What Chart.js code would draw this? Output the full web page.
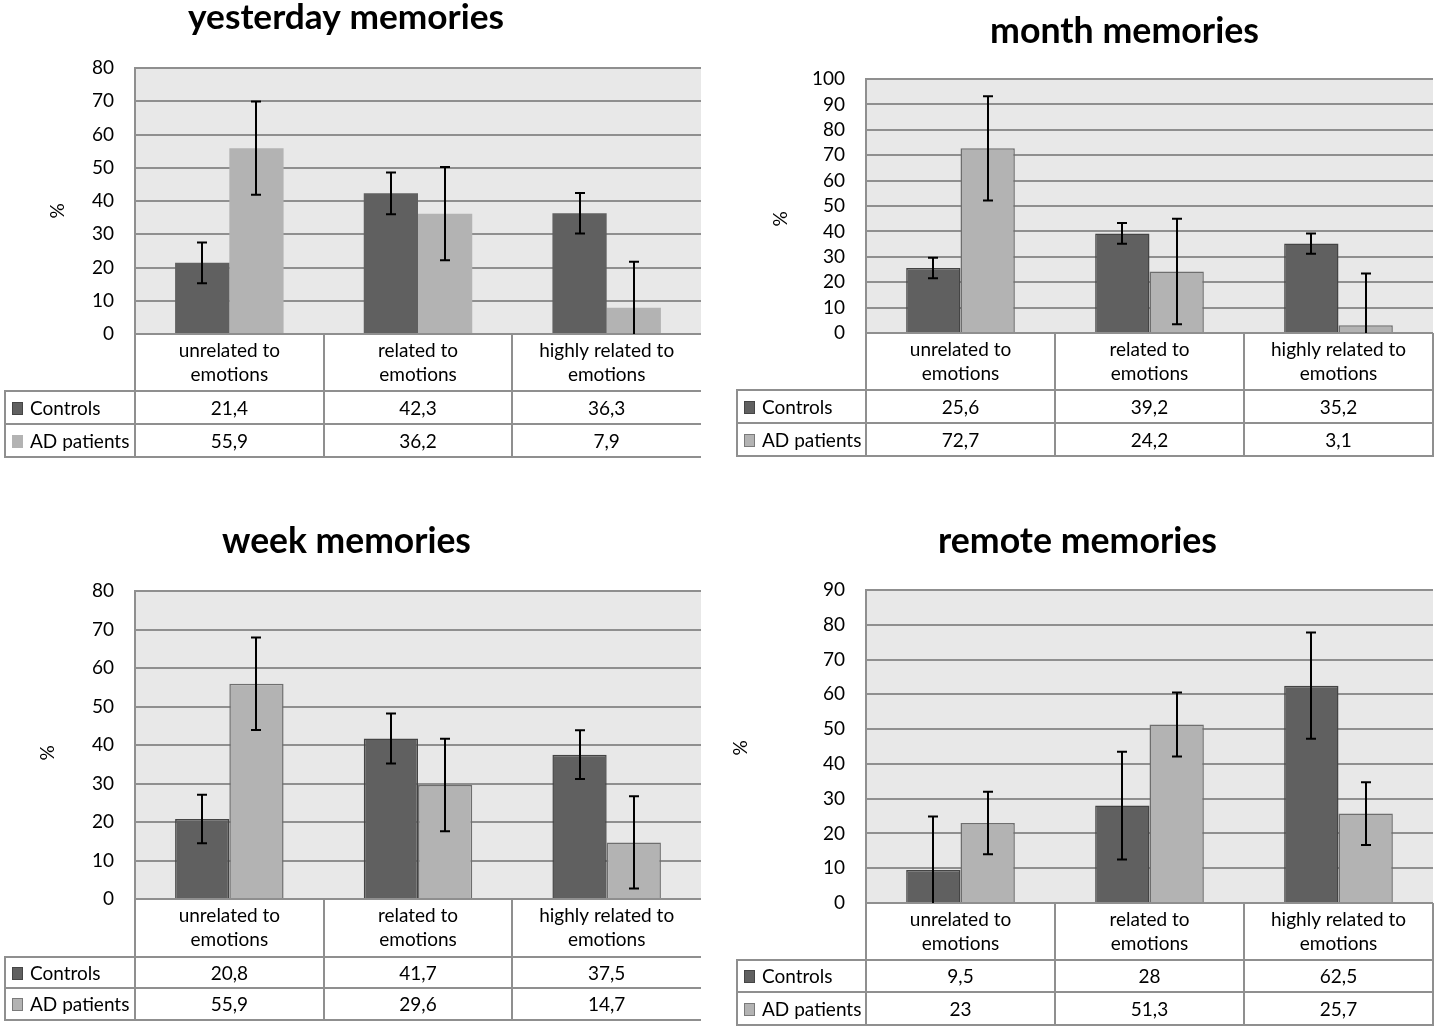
<!DOCTYPE html>
<html><head><meta charset="utf-8">
<script src="https://cdn.jsdelivr.net/npm/chart.js@4.4.0/dist/chart.umd.min.js"></script>
<style>
html,body{margin:0;padding:0;background:#fff;}
#page{position:relative;width:1439px;height:1032px;overflow:hidden;background:#fff;}
canvas{position:absolute;}
</style></head><body><div id="page">
<canvas id="c0"></canvas><canvas id="c1"></canvas><canvas id="c2"></canvas><canvas id="c3"></canvas>
</div>
<script>
// ---------- data ----------
const categories = [['unrelated to','emotions'],['related to','emotions'],['highly related to','emotions']];
const seriesNames = ['Controls','AD patients'];
const panelTitles = ['yesterday memories','month memories','week memories','remote memories'];
const axisTitle = '%';

const yesterdayControls = [21.4, 42.3, 36.3];
const yesterdayAD = [55.9, 36.2, 7.9];
const yesterdayControlsErr = [6.1, 6.3, 6.1];
const yesterdayADErr = [14.0, 14.0, 13.8];
const yesterdayTicks = [0,10,20,30,40,50,60,70,80];

const monthControls = [25.6, 39.2, 35.2];
const monthAD = [72.7, 24.2, 3.1];
const monthControlsErr = [4.0, 4.1, 4.0];
const monthADErr = [20.5, 20.8, 20.3];
const monthTicks = [0,10,20,30,40,50,60,70,80,90,100];

const weekControls = [20.8, 41.7, 37.5];
const weekAD = [55.9, 29.6, 14.7];
const weekControlsErr = [6.3, 6.5, 6.3];
const weekADErr = [12.0, 12.0, 12.0];
const weekTicks = [0,10,20,30,40,50,60,70,80];

const remoteControls = [9.5, 28, 62.5];
const remoteAD = [23, 51.3, 25.7];
const remoteControlsErr = [15.4, 15.5, 15.3];
const remoteADErr = [9.0, 9.2, 9.0];
const remoteTicks = [0,10,20,30,40,50,60,70,80,90];

// ---------- layout / style ----------
const FONT = 'Lato, "Open Sans", sans-serif';
const FS = 19;
const DARK = '#606060', LIGHT = '#b3b3b3', LINE = '#8f8f8f', PLOTBG = '#e8e8e8';

const layouts = [
 {left:0,   top:0,   w:720, h:470, plotL:135, plotR:701, plotT:68, plotB:334, tableL:5,  rows:[391,424,457], rightBorder:false, barBorder:false, titleX:346,   titleBase:29, titleW:316, pctX:58, pctY:211},
 {left:720, top:0,   w:719, h:470, plotL:146, plotR:713, plotT:79, plotB:333, tableL:17, rows:[390,423,456], rightBorder:true,  barBorder:true,  titleX:404.5, titleBase:43, titleW:269, pctX:61, pctY:219},
 {left:0,   top:500, w:720, h:532, plotL:135, plotR:701, plotT:91, plotB:399, tableL:5,  rows:[457,488,520], rightBorder:false, barBorder:true,  titleX:346.5, titleBase:53, titleW:249, pctX:48, pctY:253},
 {left:720, top:500, w:719, h:532, plotL:146, plotR:713, plotT:90, plotB:403, tableL:17, rows:[460,492,525], rightBorder:true,  barBorder:true,  titleX:357.5, titleBase:53, titleW:279, pctX:21, pctY:248}
];

const panelData = [
 {c:yesterdayControls, a:yesterdayAD, ce:yesterdayControlsErr, ae:yesterdayADErr, ticks:yesterdayTicks},
 {c:monthControls, a:monthAD, ce:monthControlsErr, ae:monthADErr, ticks:monthTicks},
 {c:weekControls, a:weekAD, ce:weekControlsErr, ae:weekADErr, ticks:weekTicks},
 {c:remoteControls, a:remoteAD, ce:remoteControlsErr, ae:remoteADErr, ticks:remoteTicks}
];

function fmt(v){ return String(v).replace('.', ','); }

const decor = {
  id: 'decor',
  beforeDraw(chart, args, o){
    const {ctx, chartArea:a} = chart;
    ctx.save(); ctx.fillStyle = PLOTBG;
    ctx.fillRect(a.left, a.top, a.right - a.left, a.bottom - a.top);
    ctx.restore();
  },
  afterDatasetsDraw(chart, args, o){
    const {ctx, chartArea:a} = chart; const y = chart.scales.y;
    ctx.save();
    ctx.beginPath(); ctx.rect(a.left, a.top - 12, a.right - a.left, a.bottom - a.top + 12); ctx.clip();
    ctx.strokeStyle = '#000'; ctx.lineWidth = 2;
    chart.data.datasets.forEach((ds, d) => {
      const meta = chart.getDatasetMeta(d);
      meta.data.forEach((bar, i) => {
        const v = ds.data[i], e = o.errors[d][i];
        const yt = y.getPixelForValue(v + e), yb = y.getPixelForValue(v - e);
        const x = Math.round(bar.x);
        ctx.beginPath();
        ctx.moveTo(x, yt); ctx.lineTo(x, yb);
        ctx.moveTo(x - 5, yt); ctx.lineTo(x + 5, yt);
        ctx.moveTo(x - 5, yb); ctx.lineTo(x + 5, yb);
        ctx.stroke();
      });
    });
    ctx.restore();
  },
  afterDraw(chart, args, o){
    const {ctx, chartArea:a} = chart; const x = chart.scales.x; const L = o.layout;
    const n = chart.data.labels.length;
    const centers = []; for (let i = 0; i < n; i++) centers.push(x.getPixelForValue(i));
    const bounds = [a.left];
    for (let i = 0; i < n - 1; i++) bounds.push((centers[i] + centers[i+1]) / 2);
    bounds.push(a.right);
    const r = L.rows, top = a.bottom;
    ctx.save();
    // table lines
    ctx.strokeStyle = LINE; ctx.lineWidth = 2;
    ctx.beginPath();
    r.forEach(yy => { ctx.moveTo(L.tableL, yy); ctx.lineTo(a.right + (L.rightBorder ? 1 : 0), yy); });
    ctx.moveTo(L.tableL, r[0] - 1); ctx.lineTo(L.tableL, r[2] + 1);
    ctx.moveTo(a.left, top); ctx.lineTo(a.left, r[2] + 1);
    for (let i = 1; i < n; i++) { ctx.moveTo(Math.round(bounds[i]), top); ctx.lineTo(Math.round(bounds[i]), r[2] + 1); }
    if (L.rightBorder) { ctx.moveTo(a.right, top); ctx.lineTo(a.right, r[2] + 1); }
    ctx.stroke();
    // category labels
    ctx.fillStyle = '#000'; ctx.textAlign = 'center'; ctx.textBaseline = 'middle';
    ctx.font = FS + 'px ' + FONT;
    chart.data.labels.forEach((lab, i) => {
      ctx.fillText(lab[0], centers[i], top + 16.5);
      ctx.fillText(lab[1], centers[i], top + 41);
    });
    // value rows
    const rowsY = [(r[0] + r[1]) / 2, (r[1] + r[2]) / 2];
    chart.data.datasets.forEach((ds, d) => {
      ds.data.forEach((v, i) => ctx.fillText(fmt(v), centers[i], rowsY[d] + 1));
    });
    // legend keys + names
    chart.data.datasets.forEach((ds, d) => {
      const ky = Math.round(rowsY[d] - 6);
      ctx.fillStyle = ds.backgroundColor;
      ctx.fillRect(L.tableL + 7, ky, 11, 13);
      if (d === 0 || L.barBorder) {
        ctx.strokeStyle = d === 0 ? '#454545' : '#7a7a7a'; ctx.lineWidth = 1;
        ctx.strokeRect(L.tableL + 7.5, ky + 0.5, 10, 12);
      }
      ctx.fillStyle = '#000'; ctx.textAlign = 'left';
      ctx.fillText(ds.label, L.tableL + 25, rowsY[d] + 1);
    });
    // title (fit to measured width)
    ctx.textAlign = 'center'; ctx.textBaseline = 'alphabetic';
    ctx.font = 'bold 30px ' + FONT;
    const wMeas = ctx.measureText(o.title).width;
    const size = 30 * L.titleW / wMeas;
    ctx.font = 'bold ' + size.toFixed(2) + 'px ' + FONT;
    ctx.fillText(o.title, L.titleX, L.titleBase);
    // axis title
    ctx.save();
    ctx.translate(L.pctX, L.pctY); ctx.rotate(-Math.PI / 2);
    ctx.textBaseline = 'middle'; ctx.font = FS + 'px ' + FONT;
    ctx.fillText(axisTitle, 0, 0);
    ctx.restore();
    ctx.restore();
  }
};

layouts.forEach((L, p) => {
  const cv = document.getElementById('c' + p);
  cv.width = L.w; cv.height = L.h;
  cv.style.left = L.left + 'px'; cv.style.top = L.top + 'px';
  cv.style.width = L.w + 'px'; cv.style.height = L.h + 'px';
  const D = panelData[p];
  const bw = L.barBorder ? 1.5 : 0;
  new Chart(cv, {
    type: 'bar',
    data: {
      labels: categories,
      datasets: [
        {label: seriesNames[0], data: D.c, backgroundColor: DARK, borderColor: '#444444', borderWidth: bw, borderSkipped: 'bottom'},
        {label: seriesNames[1], data: D.a, backgroundColor: LIGHT, borderColor: '#6e6e6e', borderWidth: bw, borderSkipped: 'bottom'}
      ]
    },
    options: {
      responsive: false, animation: false, devicePixelRatio: 1,
      layout: {padding: {left: 0, top: L.plotT, right: L.w - L.plotR, bottom: L.h - L.plotB}},
      datasets: {bar: {categoryPercentage: 0.575, barPercentage: 1}},
      plugins: {
        legend: {display: false}, tooltip: {enabled: false}, title: {display: false},
        decor: {layout: L, errors: [D.ce, D.ae], title: panelTitles[p]}
      },
      scales: {
        x: {type: 'category', display: false, offset: true},
        y: {
          min: D.ticks[0], max: D.ticks[D.ticks.length - 1],
          afterFit(s){ s.width = L.plotL; },
          afterBuildTicks(s){ s.ticks = D.ticks.map(v => ({value: v})); },
          ticks: {color: '#000', padding: 21, autoSkip: false, font: {family: FONT, size: FS}, callback: v => String(v)},
          grid: {color: LINE, lineWidth: 2, drawTicks: false},
          border: {display: true, color: LINE, width: 2}
        }
      }
    },
    plugins: [decor]
  });
});
</script>
</body></html>
